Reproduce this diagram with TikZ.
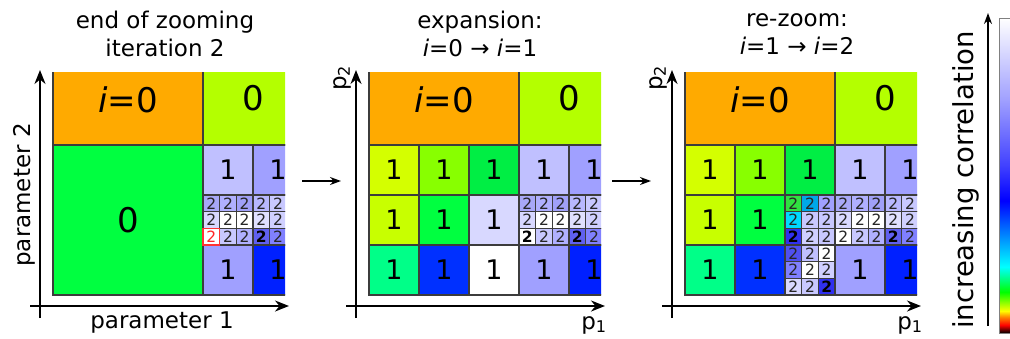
\documentclass[tikz,border=0pt]{standalone}
\usepackage{fontspec}
\setmainfont{DejaVu Sans}
\usetikzlibrary{arrows.meta}
\definecolor{cellline}{HTML}{3C3C3C}
\definecolor{orng}{HTML}{FFAA00}
\definecolor{limezero}{HTML}{B4FF00}
\definecolor{greenzero}{HTML}{00FF40}
\definecolor{corrmid}{HTML}{4040FF}
\definecolor{corrlav}{HTML}{A0A0FF}
\pgfdeclareverticalshading{corrbar}{100bp}{color(0bp)=(black); color(25bp)=(black); color(26.25bp)=(red); color(27.5bp)=(orange); color(28.5bp)=(yellow); color(31.5bp)=(green); color(35.5bp)=(cyan); color(46bp)=(blue); color(51.5bp)=(corrmid); color(62bp)=(corrlav); color(75bp)=(white); color(100bp)=(white)}
\tikzset{
  cell/.style={draw=cellline, line width=2.4pt},
  subcell/.style={draw=cellline, line width=1.2pt},
  zero/.style={inner sep=0pt, font=\fontsize{34}{34}\selectfont},
  one/.style={inner sep=0pt, font=\fontsize{27}{27}\selectfont},
  two/.style={inner sep=0pt, text=black!85, font=\fontsize{15.5}{15.5}\selectfont},
  twob/.style={inner sep=0pt, text=black, font=\fontsize{15.5}{15.5}\selectfont\bfseries},
  axlabel/.style={inner sep=0pt, font=\fontsize{23}{23}\selectfont},
  title/.style={align=center, font=\fontsize{23}{28}\selectfont},
  axis/.style={line width=2pt, -{Stealth[length=14pt, width=11pt]}},
  pass/.style={line width=1.5pt, -{Stealth[length=11pt, width=8pt]}}
}
\begin{document}
\begin{tikzpicture}[x=1pt, y=-1pt]
\useasboundingbox (0,0) rectangle (1010,338);
\foreach \p/\x in {1/53,2/369,3/685} {
  \begin{scope}[shift={(\x,145)}]
    \clip (-2,-73) rectangle (232,152);
    \filldraw[cell, fill=orng] (0,-150) rectangle (150,0);
    \filldraw[cell, fill=limezero] (150,-150) rectangle (300,0);
    \node[zero] (izero\p) at (75,-45) {\textit{i}=0};
    \node[zero] (zero\p) at (200,-47) {0};
    \foreach \c/\r/\col in {3/0/C0C0FF, 4/0/A0A0FF, 3/2/A0A0FF, 4/2/0020FF} {
      \definecolor{tmp}{HTML}{\col}
      \filldraw[cell, fill=tmp] (50*\c,50*\r) rectangle +(50,50);
      \node[one] (one-\p-\c-\r) at (50*\c+25,50*\r+25) {1};
    }
    \foreach \i/\j/\col/\sty in {0/0/A8A8F8/two, 1/0/B0B0FF/two, 2/0/A0A0F8/two, 3/0/B8B8FF/two, 4/0/C8C8FF/two, 5/0/C0C0FF/two,
        0/1/D8D8FF/two, 1/1/FFFFFF/two, 2/1/FFFFFF/two, 3/1/E0E0FF/two, 4/1/D0D0FF/two, 5/1/D0D0FF/two,
        1/2/C8C8FF/two, 2/2/B0B0FF/two, 3/2/6060F0/twob, 4/2/8080FF/two, 5/2/8080FF/two} {
      \definecolor{tmp}{HTML}{\col}
      \filldraw[subcell, fill=tmp] (150+\i*50/3,50+\j*50/3) rectangle +(50/3,50/3);
      \node[\sty] (two-\p-\i-\j) at (150+\i*50/3+25/3,50+\j*50/3+25/3) {2};
    }
  \end{scope}
  \coordinate (ybot\p) at (\x-13,318);
  \coordinate (ytop\p) at (\x-13,70);
  \coordinate (xlft\p) at (\x-23,306);
  \coordinate (xrgt\p) at (\x+236,306);
  \draw[axis] (ybot\p) -- (ytop\p);
  \draw[axis] (xlft\p) -- (xrgt\p);
}
% end of zooming
\begin{scope}[shift={(53,145)}]
  \filldraw[cell, fill=greenzero] (0,0) rectangle (150,150);
  \node[zero] (green0) at (75,75) {0};
  \filldraw[subcell, draw=red!80, fill=white] (150,50+100/3) rectangle +(50/3,50/3);
  \node[two, text=red!85] (redtwo) at (150+25/3,50+125/3) {2};
\end{scope}
% expansion
\begin{scope}[shift={(369,145)}]
  \foreach \c/\r/\col in {0/0/D4FF00, 1/0/88FF00, 2/0/00EE44, 0/1/C8FF00, 1/1/00FF40, 2/1/D8D8FF, 0/2/00FF88, 1/2/0030FF, 2/2/FFFFFF} {
    \definecolor{tmp}{HTML}{\col}
    \filldraw[cell, fill=tmp] (50*\c,50*\r) rectangle +(50,50);
    \node[one] (exp-\c-\r) at (50*\c+25,50*\r+25) {1};
  }
  \filldraw[subcell, fill=white] (150,50+100/3) rectangle +(50/3,50/3);
  \node[twob] (exptwo) at (150+25/3,50+125/3) {2};
\end{scope}
% re-zoom
\begin{scope}[shift={(685,145)}]
  \foreach \c/\r/\col in {0/0/D4FF00, 1/0/88FF00, 2/0/00EE44, 0/1/C8FF00, 1/1/00FF40, 0/2/00FF88, 1/2/0030FF} {
    \definecolor{tmp}{HTML}{\col}
    \filldraw[cell, fill=tmp] (50*\c,50*\r) rectangle +(50,50);
    \node[one] (rez-\c-\r) at (50*\c+25,50*\r+25) {1};
  }
  \foreach \i/\j/\col/\sty in {0/0/30E040/two, 1/0/00A8E8/two, 2/0/A0A0FF/two, 0/1/00D8FF/two, 1/1/C8C8FF/two, 2/1/C8C8FF/two,
      0/2/3030F0/twob, 1/2/D0D0FF/two, 2/2/C8C8FF/two, 0/3/5050F0/two, 1/3/C0C0FF/two, 2/3/FFFFFF/two,
      0/4/8080FF/two, 1/4/FFFFFF/two, 2/4/D0D0FF/two, 0/5/D8D8FF/two, 1/5/C8C8FF/two, 2/5/3030F0/twob, 3/2/FFFFFF/two} {
    \definecolor{tmp}{HTML}{\col}
    \filldraw[subcell, fill=tmp] (100+\i*50/3,50+\j*50/3) rectangle +(50/3,50/3);
    \node[\sty] (rez2-\i-\j) at (100+\i*50/3+25/3,50+\j*50/3+25/3) {2};
  }
\end{scope}
\node[title] (title1) at (165,34) {end of zooming\\iteration 2};
\node[title] (title2) at (480,34) {expansion:\\\textit{i}=0 → \textit{i}=1};
\node[title] (title3) at (797,34) {re-zoom:\\\textit{i}=1 → \textit{i}=2};
\node[axlabel, rotate=90] (par2) at (24,195) {parameter 2};
\node[axlabel] (par1) at (162,323) {parameter 1};
\foreach \p/\x in {2/369,3/685} {
  \node[axlabel, rotate=90] (ptwo\p) at (\x-27,78) {p\textsubscript{2}};
  \node[axlabel] (pone\p) at (\x+225,325) {p\textsubscript{1}};
}
\coordinate (pass1s) at (302,181);
\coordinate (pass1e) at (341,181);
\coordinate (pass2s) at (612,181);
\coordinate (pass2e) at (651,181);
\draw[pass] (pass1s) -- (pass1e);
\draw[pass] (pass2s) -- (pass2e);
\shade[shading=corrbar] (999,18) rectangle (1014,333);
\draw[gray, line width=1pt] (999,18) rectangle (1014,333);
\coordinate (cbot) at (988,326);
\coordinate (ctop) at (988,13);
\draw[pass] (cbot) -- (ctop);
\node[inner sep=0pt, rotate=90, font=\fontsize{27.5}{27.5}\selectfont] (corr) at (966,180) {increasing correlation};
\end{tikzpicture}
\end{document}
